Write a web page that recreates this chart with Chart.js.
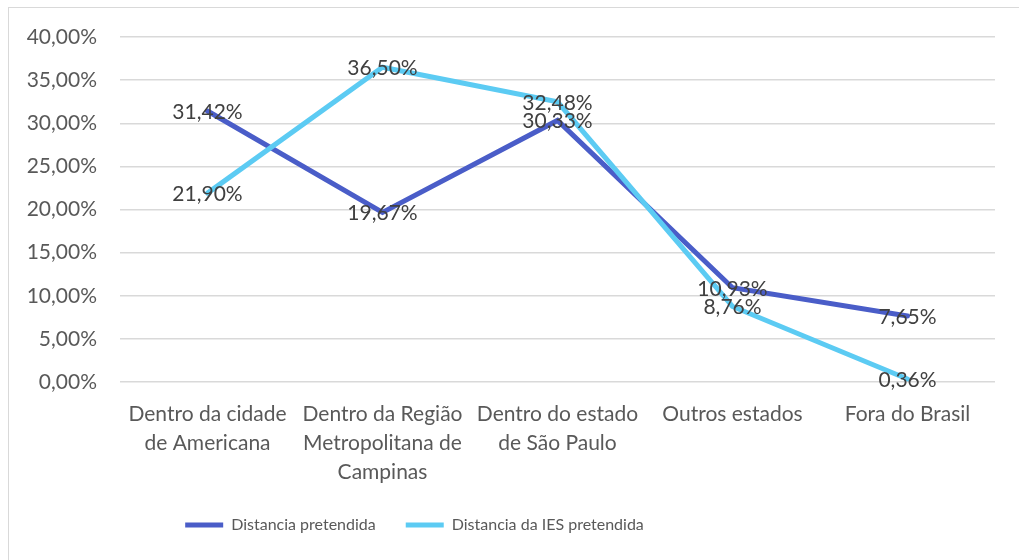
<!DOCTYPE html>
<html>
<head>
<meta charset="utf-8">
<script src="https://cdn.jsdelivr.net/npm/chart.js@4"></script>
<style>
body{margin:0;background:#fff;overflow:hidden}
#frame{position:absolute;left:8px;top:7px;width:1100px;height:600px;border:1px solid #d9d9d9}
#wrap{position:absolute;left:0;top:0;width:1019px;height:560px}
</style>
</head>
<body>
<div id="frame"></div>
<div id="wrap"><canvas id="Chart"></canvas></div>
<script>
let categories = [
	["Dentro da cidade", "de Americana"],
	["Dentro da Região", "Metropolitana de", "Campinas"],
	["Dentro do estado", "de São Paulo"],
	"Outros estados",
	"Fora do Brasil"
]
let seriesNames = ["Distancia pretendida", "Distancia da IES pretendida"]
let distPretendida = [31.42, 19.67, 30.33, 10.93, 7.65]
let distIes = [21.90, 36.50, 32.48, 8.76, 0.36]
let yTicks = [0, 5, 10, 15, 20, 25, 30, 35, 40]

function pct(v){
	return v.toFixed(2).replace(".", ",") + "%"
}

let fontName = "Lato"

// value labels sitting on each point
let valueLabels = {
	id: "valueLabels",
	afterDatasetsDraw(chart){
		let ctx = chart.ctx
		ctx.save()
		ctx.font = "21px " + fontName
		ctx.fillStyle = "#404040"
		ctx.textAlign = "center"
		ctx.textBaseline = "middle"
		chart.data.datasets.forEach((ds, i) => {
			let meta = chart.getDatasetMeta(i)
			meta.data.forEach((pt, j) => {
				ctx.fillText(pct(ds.data[j]), pt.x, pt.y + 1)
			})
		})
		ctx.restore()
	}
}

// legend sits centred under the left part of the frame
let legendBox = {
	id: "legendBox",
	afterLayout(chart){
		let lg = chart.legend
		lg.left = 14
		lg.right = 815
		lg.width = lg.right - lg.left
	}
}

function plotChart(){
new Chart("Chart", {
	type: "line",
	data: {
		labels: categories,
		datasets: [
			{label: seriesNames[0], data: distPretendida, borderColor: "#4a5dc8", backgroundColor: "#4a5dc8", borderWidth: 5, borderCapStyle: "round", pointRadius: 0, tension: 0, order: 1},
			{label: seriesNames[1], data: distIes, borderColor: "#5ccbf3", backgroundColor: "#5ccbf3", borderWidth: 5, borderCapStyle: "round", pointRadius: 0, tension: 0, order: 0}
		]
	},
	options: {
		responsive: true,
		maintainAspectRatio: false,
		animation: false,
		layout: {padding: {left: 8, right: 24, top: 37, bottom: 17}},
		plugins: {
			tooltip: {enabled: false},
			legend: {
				position: "bottom",
				labels: {
					sort: (a, b) => a.datasetIndex - b.datasetIndex,
					font: {family: fontName, size: 16},
					color: "#595959",
					usePointStyle: true,
					pointStyle: "line",
					pointStyleWidth: 38,
					padding: 30
				}
			}
		},
		scales: {
			x: {
				offset: true,
				grid: {display: false},
				border: {display: false},
				afterFit: s => { s.height = s.height - 10 },
				ticks: {font: {family: fontName, size: 21, lineHeight: 1.38}, color: "#595959", padding: 10, maxRotation: 0, autoSkip: false}
			},
			y: {
				min: 0,
				max: 40,
				afterFit: s => { s.width = 112 },
				afterBuildTicks: s => { s.ticks = yTicks.map(v => ({value: v})) },
				grid: {color: "#d9d9d9", lineWidth: 1.5, drawTicks: false},
				border: {display: false},
				ticks: {font: {family: fontName, size: 21}, color: "#595959", padding: 23, callback: v => pct(v)}
			}
		}
	},
	plugins: [valueLabels, legendBox]
})
}

document.fonts.load("16px " + fontName).then(plotChart, plotChart)
</script>
</body>
</html>
